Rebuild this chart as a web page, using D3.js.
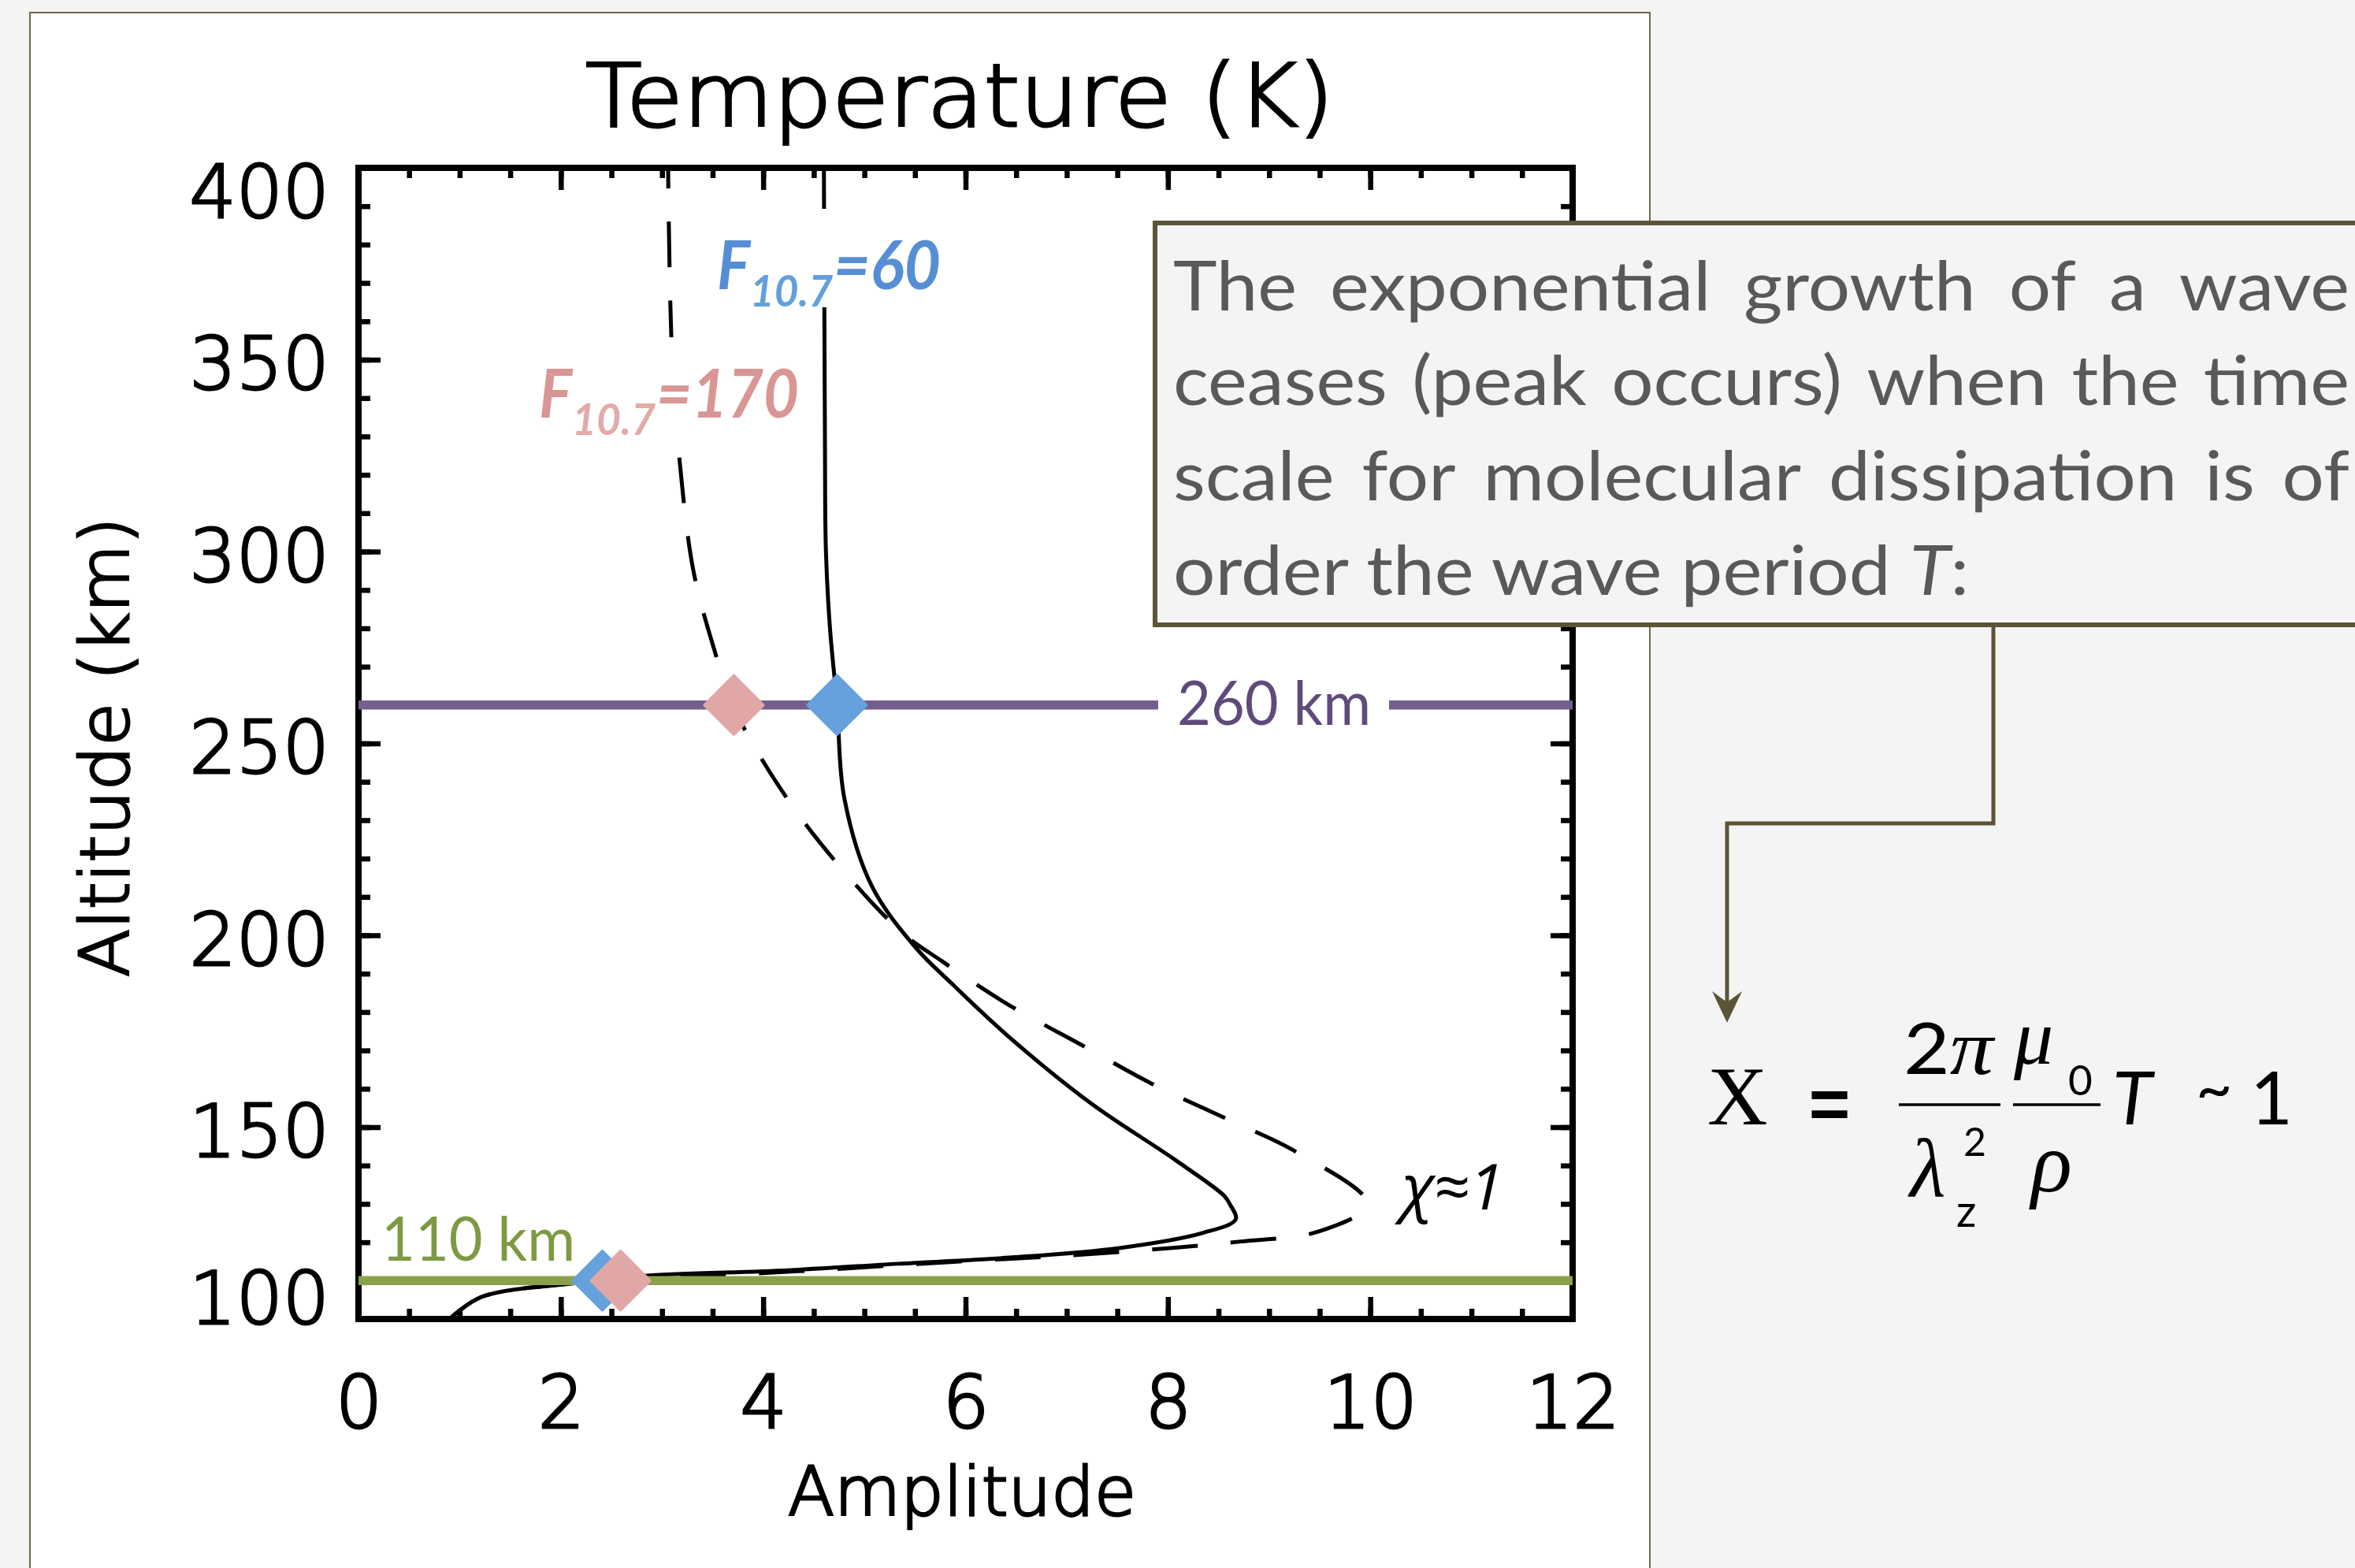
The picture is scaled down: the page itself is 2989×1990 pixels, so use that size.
<!DOCTYPE html>
<html>
<head>
<meta charset="utf-8">
<script src="https://cdn.jsdelivr.net/npm/d3@7"></script>
<style>
body{margin:0;background:#f4f4f4;}
svg{display:block;}
</style>
</head>
<body>
<script>
// F10.7=60 profile (solid), amplitude vs altitude
var solidAmp = [0.92,1.22,2.12,2.40,2.85,4.24,5.33,6.43,7.52,8.34,8.67,8.61,8.56,8.07,7.25,6.43,5.88,5.50,5.07,4.80,4.73,4.66,4.62,4.61,4.60]
var solidAlt = [100.5,105.8,109.3,110.0,111.3,112.7,114.4,116.0,118.5,122.4,126,130,132,141.5,156,173.5,187,197,213,236,260,280,300,330,400]

// F10.7=170 profile (dashed)
var dashAmp = [0.92,1.22,2.12,2.60,4.24,5.88,6.98,8.07,8.72,9.49,9.97,9.27,8.61,7.85,7.14,6.43,5.77,5.36,4.55,4.03,3.70,3.51,3.31,3.18,3.10,3.06]
var dashAlt = [100.5,105.8,109.3,110.3,112.3,114.9,116.5,118.6,120.2,122.8,130,143.5,151.8,161.2,171.5,181.8,193.2,201,224.5,244,260,275,295,322,350,400]

// peak / reference markers
var markerSeries = ["F170","F60","F60","F170"]
var markerAmp = [3.71,4.73,2.41,2.59]
var markerAlt = [260,260,110,110]

var refAlts = [260,110]
var refLabels = ["260 km","110 km"]

var xTicks = [0,2,4,6,8,10,12]
var yTicks = [100,150,200,250,300,350,400]

var paraLines = [
  "The exponential growth of a wave",
  "ceases (peak occurs) when the time",
  "scale for molecular dissipation is of"
]

var W = 2989, H = 1990
var plotFont = "DejaVu Sans"
var noteFont = "Lato, 'Open Sans', sans-serif"

var svg = d3.select("body").append("svg").attr("width",W).attr("height",H)

svg.append("rect").attr("width",W).attr("height",H).attr("fill","#f4f4f4")
svg.append("rect").attr("x",38).attr("y",16).attr("width",2056).attr("height",2000)
  .attr("fill","#fff").attr("stroke","#6e6748").attr("stroke-width",2)

var x = d3.scaleLinear().domain([0,12]).range([455,1996])
var y = d3.scaleLinear().domain([100,400]).range([1674,213])

// curves
var line = d3.line().x(d=>x(d[0])).y(d=>y(d[1])).curve(d3.curveCatmullRom.alpha(0.5))
svg.append("path").datum(d3.zip(dashAmp,dashAlt)).attr("d",line)
  .attr("fill","none").attr("stroke","#000").attr("stroke-width",5).attr("stroke-dasharray","58,42")
svg.append("path").datum(d3.zip(solidAmp,solidAlt)).attr("d",line)
  .attr("fill","none").attr("stroke","#000").attr("stroke-width",5)

// axes, all ticks pointing inward
function styleAxis(g){
  g.select(".domain").remove()
  g.selectAll(".tick line").attr("stroke","#000").attr("stroke-width",6.5)
  g.attr("font-family",plotFont).attr("font-size",93).attr("font-weight",200)
  g.selectAll(".tick text").attr("fill","#000").attr("stroke","#000").attr("stroke-width",3)
}
var minorX = d3.range(0,12.001,0.5), minorY = d3.range(100,400.001,10)

svg.append("g").attr("transform","translate(0,1674)")
  .call(d3.axisBottom(x).tickValues(minorX).tickSize(-13).tickFormat("")).call(styleAxis)
svg.append("g").attr("transform","translate(0,1674)")
  .call(d3.axisBottom(x).tickValues(xTicks).tickSize(-28).tickPadding(72).tickFormat(d3.format("d"))).call(styleAxis)
svg.append("g").attr("transform","translate(0,213)")
  .call(d3.axisTop(x).tickValues(minorX).tickSize(-13).tickFormat("")).call(styleAxis)
svg.append("g").attr("transform","translate(0,213)")
  .call(d3.axisTop(x).tickValues(xTicks).tickSize(-28).tickFormat("")).call(styleAxis)
svg.append("g").attr("transform","translate(455,0)")
  .call(d3.axisLeft(y).tickValues(minorY).tickSize(-15).tickFormat("")).call(styleAxis)
var yAx = svg.append("g").attr("transform","translate(455,0)")
  .call(d3.axisLeft(y).tickValues(yTicks).tickSize(-28).tickPadding(37).tickFormat(d3.format("d"))).call(styleAxis)
yAx.selectAll(".tick text").attr("dy","0.40em").attr("y",d=>d===100?-32:(d===400?25:0))
svg.append("g").attr("transform","translate(1996,0)")
  .call(d3.axisRight(y).tickValues(minorY).tickSize(-15).tickFormat("")).call(styleAxis)
svg.append("g").attr("transform","translate(1996,0)")
  .call(d3.axisRight(y).tickValues(yTicks).tickSize(-28).tickFormat("")).call(styleAxis)

svg.append("rect").attr("x",x(0)).attr("y",y(400)).attr("width",x(12)-x(0)).attr("height",y(100)-y(400))
  .attr("fill","none").attr("stroke","#000").attr("stroke-width",8)

// axis titles
var titles = svg.append("g").attr("font-family",plotFont).attr("font-weight",200)
  .attr("fill","#000").attr("stroke","#000").attr("stroke-width",3)
titles.append("text").attr("x",1218).attr("y",160).attr("text-anchor","middle")
  .attr("font-size",110).attr("textLength",950).attr("lengthAdjust","spacingAndGlyphs")
  .text("Temperature  (K)")
titles.append("text").attr("x",1221).attr("y",1923).attr("text-anchor","middle")
  .attr("font-size",86).attr("textLength",442).attr("lengthAdjust","spacingAndGlyphs")
  .text("Amplitude")
titles.append("text").attr("transform","translate(163,948) rotate(-90)").attr("text-anchor","middle")
  .attr("font-size",86).attr("textLength",584).attr("lengthAdjust","spacingAndGlyphs")
  .text("Altitude  (km)")

// reference altitude lines
var refColor = {260:"#735e8d",110:"#8aa14b"}
var refText = {260:"#604a7b",110:"#7d9a43"}
svg.selectAll(".ref").data(refAlts).enter().append("line").attr("class","ref")
  .attr("x1",x(0)).attr("x2",x(12)).attr("y1",d=>y(d)).attr("y2",d=>y(d))
  .attr("stroke",d=>refColor[d]).attr("stroke-width",11.5)

svg.append("rect").attr("x",1470).attr("y",y(260)-45).attr("width",293).attr("height",90).attr("fill","#fff")
svg.append("text").attr("x",1494).attr("y",y(260)+25).attr("font-family",noteFont).attr("font-size",78)
  .attr("textLength",246).attr("lengthAdjust","spacingAndGlyphs").attr("fill",refText[260]).text(refLabels[0])
svg.append("text").attr("x",484).attr("y",y(110)-25).attr("font-family",noteFont).attr("font-size",78)
  .attr("textLength",246).attr("lengthAdjust","spacingAndGlyphs").attr("fill",refText[110]).text(refLabels[1])

// diamonds
var mColor = {F60:"#65a1dc",F170:"#e0a7a6"}
var diamond = d3.symbol().type(d3.symbolSquare).size(2750)
svg.selectAll(".mk").data(d3.range(markerAmp.length)).enter().append("path").attr("class","mk")
  .attr("d",diamond)
  .attr("transform",i=>"translate("+x(markerAmp[i])+","+y(markerAlt[i])+") rotate(45)")
  .attr("fill",i=>mColor[markerSeries[i]]).attr("stroke",i=>mColor[markerSeries[i]])
  .attr("stroke-width",4).attr("stroke-linejoin","round")

// F10.7 labels
function fLabel(x0, base, subEnd, rest, restEnd, main, sub){
  svg.append("rect").attr("x",x0-12).attr("y",base-102).attr("width",restEnd-x0+24).attr("height",125)
    .attr("fill","#fff")
  var t = svg.append("text").attr("font-family",noteFont).attr("font-style","italic").attr("font-weight",700)
  t.append("tspan").attr("x",x0).attr("y",base).attr("font-size",86).attr("fill",main)
    .attr("textLength",42).attr("lengthAdjust","spacingAndGlyphs").text("F")
  t.append("tspan").attr("x",x0+42).attr("y",base+22).attr("font-size",56).attr("fill",sub)
    .attr("textLength",subEnd-x0-42).attr("lengthAdjust","spacingAndGlyphs").text("10.7")
  t.append("tspan").attr("x",subEnd+1).attr("y",base).attr("font-size",86).attr("fill",main)
    .attr("textLength",restEnd-subEnd-1).attr("lengthAdjust","spacingAndGlyphs").text(rest)
}
fLabel(910,367,1057,"=60",1194,"#558ed5","#62a0dc")
fLabel(684,530,832,"=170",1014,"#d99694","#e3aaaa")

svg.append("text").attr("x",1779).attr("y",1535).attr("font-family","'Open Sans','DejaVu Sans'")
  .attr("font-style","italic").attr("font-size",80).attr("textLength",130).attr("lengthAdjust","spacingAndGlyphs")
  .text("χ≈1")

// note box and connector
svg.append("rect").attr("x",1466).attr("y",283).attr("width",1600).attr("height",510)
  .attr("fill","#f4f4f4").attr("stroke","#5d5437").attr("stroke-width",6)
svg.append("path").attr("d","M2530,796V1045H2192V1272").attr("fill","none").attr("stroke","#5d5437").attr("stroke-width",5)
svg.append("path").attr("d","M2173,1258L2192,1272L2211,1258L2192,1298Z").attr("fill","#5d5437")

var note = svg.append("g").attr("font-family",noteFont).attr("font-size",88).attr("fill","#595959")
paraLines.forEach(function(str,li){
  var words = str.split(" "), base = 393.5 + li*120.5
  var nodes = words.map(w=>note.append("text").attr("y",base).text(w))
  var widths = nodes.map(n=>n.node().getComputedTextLength())
  var total = d3.sum(widths), span = 2982-1489, gaps = words.length-1
  var s = Math.min(1.07,(span-gaps*28)/total)
  var gap = (span-total*s)/gaps, cx = 1489
  nodes.forEach(function(n,i){
    n.attr("x",cx).attr("textLength",widths[i]*s).attr("lengthAdjust","spacingAndGlyphs")
    cx += widths[i]*s + gap
  })
})
var last = note.append("text").attr("x",1489).attr("y",393.5+3*120.5)
  .attr("textLength",1010).attr("lengthAdjust","spacingAndGlyphs")
last.append("tspan").text("order the wave period ")
last.append("tspan").attr("font-style","italic").text("T")
last.append("tspan").text(":")

// formula
var f = svg.append("g").attr("fill","#000")
f.append("text").attr("x",2167).attr("y",1427).attr("font-family","'Liberation Serif'").attr("font-size",106).text("X")
f.append("text").attr("x",2322).attr("y",1432).attr("text-anchor","middle").attr("font-family","'Liberation Sans'")
  .attr("font-weight",700).attr("font-size",90).text("=")
var num = f.append("text").attr("x",2416).attr("y",1363).attr("textLength",114).attr("lengthAdjust","spacingAndGlyphs")
num.append("tspan").attr("font-family",noteFont).attr("font-size",92).text("2")
num.append("tspan").attr("font-family","'Liberation Serif'").attr("font-style","italic").attr("font-size",100).text("π")
f.append("line").attr("x1",2410).attr("x2",2539).attr("y1",1402).attr("y2",1402).attr("stroke","#000").attr("stroke-width",3.5)
f.append("line").attr("x1",2555).attr("x2",2666).attr("y1",1402).attr("y2",1402).attr("stroke","#000").attr("stroke-width",3.5)
f.append("text").attr("x",2424).attr("y",1518).attr("font-family","'Liberation Serif'").attr("font-style","italic").attr("font-size",105).text("λ")
f.append("text").attr("x",2492).attr("y",1467).attr("font-family",noteFont).attr("font-size",50).text("2")
f.append("text").attr("x",2483).attr("y",1557).attr("font-family",noteFont).attr("font-size",56).text("z")
f.append("text").attr("x",2556).attr("y",1350).attr("font-family","'Liberation Serif'").attr("font-style","italic").attr("font-size",100).text("μ")
f.append("text").attr("x",2625).attr("y",1390).attr("font-family",noteFont).attr("font-size",53).text("0")
f.append("text").attr("x",2578).attr("y",1512).attr("font-family","'Liberation Serif'").attr("font-style","italic").attr("font-size",108).text("ρ")
f.append("text").attr("x",2681).attr("y",1427).attr("font-family",noteFont).attr("font-style","italic").attr("font-size",93).text("T")
f.append("text").attr("x",2787).attr("y",1410).attr("font-family",noteFont).attr("font-size",80).text("~")
f.append("text").attr("x",2856).attr("y",1427).attr("font-family",noteFont).attr("font-size",93).text("1")
</script>
</body>
</html>
